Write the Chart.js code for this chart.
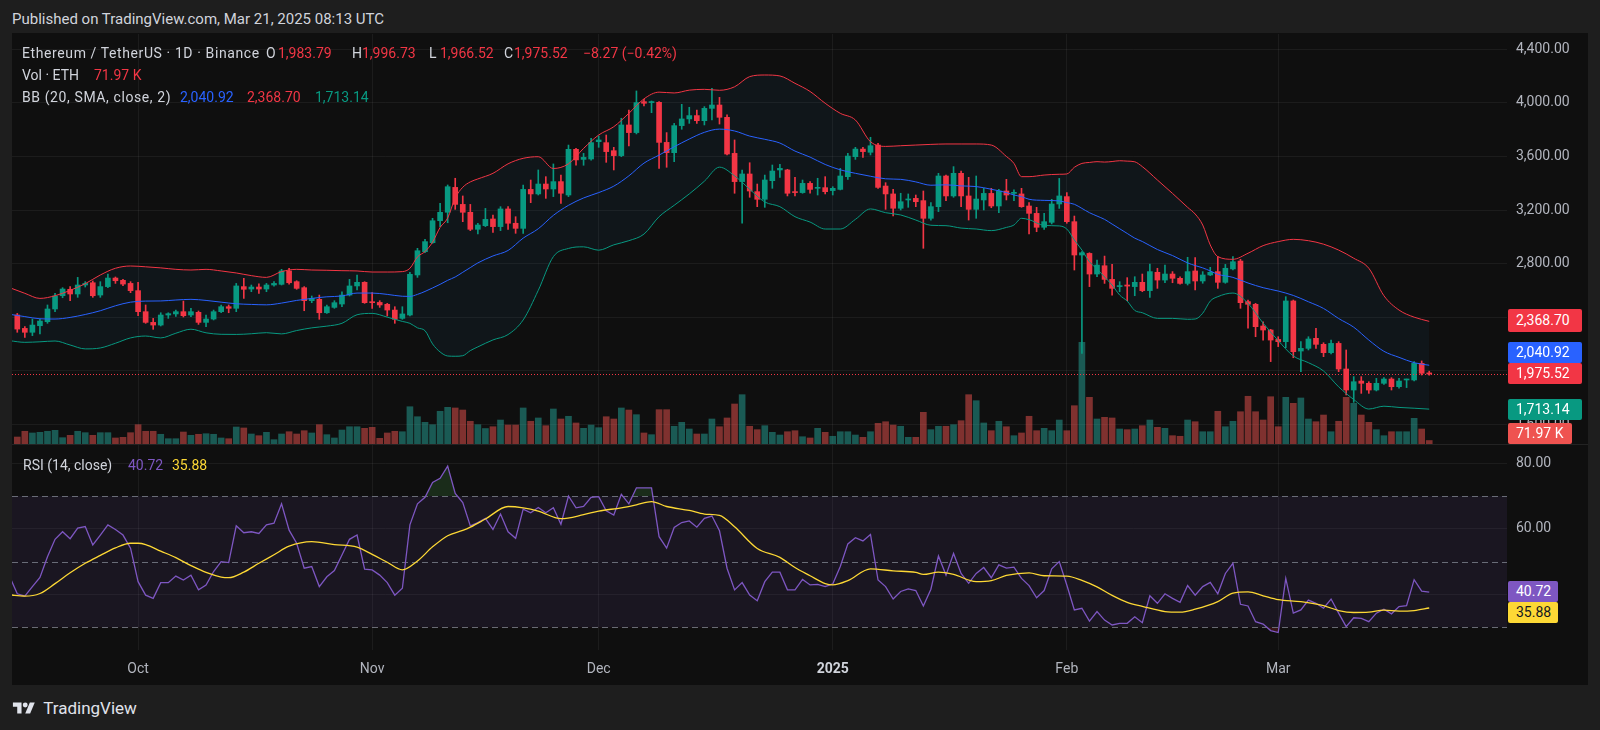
<!DOCTYPE html>
<html>
<head>
<meta charset="utf-8">
<script src="https://cdn.jsdelivr.net/npm/chart.js@4.4.1/dist/chart.umd.min.js"></script>
<style>
html, body { margin: 0; padding: 0; width: 1600px; height: 730px; overflow: hidden; background: #1e1e1e; font-family: Roboto, "Noto Sans", sans-serif; }
#panel { position: absolute; left: 12px; top: 33px; width: 1576px; height: 652px; background: #0f0f0f; }
#sep { position: absolute; left: 12px; top: 444px; width: 1576px; height: 1px; background: #232323; }
canvas { position: absolute; }
.t { position: absolute; white-space: nowrap; line-height: 1; font-size: 14px; color: #d1d4dc; }
.wide { letter-spacing: 0.6px; }
.box { position: absolute; left: 1508px; height: 21px; line-height: 21px; font-size: 14px; color: #fff; padding-left: 8px; box-sizing: border-box; border-radius: 2px; white-space: nowrap; }
.r { color: #f23645; }
</style>
</head>
<body>
<div class="t" style="left:12px;top:12px;font-size:15px">Published on TradingView.com, Mar 21, 2025 08:13 UTC</div>
<div id="panel"></div>
<canvas id="price" width="1576" height="410" style="left:12px;top:34px;width:1576px;height:410px"></canvas>
<canvas id="rsi" width="1576" height="241" style="left:12px;top:444px;width:1576px;height:241px"></canvas>
<div id="sep"></div>

<!-- legend, price pane -->
<div class="t wide" style="left:22px;top:46px">Ethereum / TetherUS&nbsp;·&nbsp;1D&nbsp;·&nbsp;Binance</div>
<div class="t" style="left:266px;top:46px">O</div><div class="t r" style="left:278px;top:46px">1,983.79</div>
<div class="t" style="left:352px;top:46px">H</div><div class="t r" style="left:362px;top:46px">1,996.73</div>
<div class="t" style="left:429px;top:46px">L</div><div class="t r" style="left:440px;top:46px">1,966.52</div>
<div class="t" style="left:504px;top:46px">C</div><div class="t r" style="left:514px;top:46px">1,975.52</div>
<div class="t r" style="left:583px;top:46px">−8.27 (−0.42%)</div>
<div class="t" style="left:22px;top:68px">Vol&nbsp;·&nbsp;ETH</div>
<div class="t r" style="left:94px;top:68px">71.97 K</div>
<div class="t wide" style="left:22px;top:90px">BB (20, SMA, close, 2)</div>
<div class="t" style="left:180px;top:90px;color:#2962ff">2,040.92</div>
<div class="t r" style="left:247px;top:90px">2,368.70</div>
<div class="t" style="left:315px;top:90px;color:#089981">1,713.14</div>

<!-- legend, RSI pane -->
<div class="t" style="left:23px;top:458px">RSI (14, close)</div>
<div class="t" style="left:128px;top:458px;color:#7e57c2">40.72</div>
<div class="t" style="left:172px;top:458px;color:#fdd835">35.88</div>

<!-- last value labels on the price scale -->
<div class="box" style="top:309px;height:23px;line-height:23px;width:74px;background:#f23645">2,368.70</div>
<div class="box" style="top:342px;width:74px;background:#2962ff">2,040.92</div>
<div class="box" style="top:363px;width:74px;background:#f23645">1,975.52</div>
<div class="box" style="top:399px;width:74px;background:#089981">1,713.14</div>
<div class="box" style="top:423px;width:64px;background:#ef5350">71.97 K</div>
<div class="box" style="top:581px;width:50px;background:#7e57c2">40.72</div>
<div class="box" style="top:602px;width:50px;background:#fdd835;color:#131722">35.88</div>

<!-- footer logo -->
<div class="t" style="left:12px;top:700px;font-size:17px;color:#e0e3eb">
  <svg width="24" height="16" viewBox="0 0 36 26" style="vertical-align:-2px"><path d="M14 22H7V11H0V4h14v18z" fill="#e0e3eb"/><circle cx="20" cy="8" r="4" fill="#e0e3eb"/><path d="M28 22h-8l7.5-18h8L28 22z" fill="#e0e3eb"/></svg>
  <span style="margin-left:3px">TradingView</span>
</div>

<script>
// dates
const axisOrigin = '2024-10-01';
const firstCandle = '2024-09-15';
const firstRsi = '2024-09-14';
const monthStarts = ['2024-10-01', '2024-11-01', '2024-12-01', '2025-01-01', '2025-02-01', '2025-03-01'];
const monthLabels = ['Oct', 'Nov', 'Dec', '2025', 'Feb', 'Mar'];
const priceTicks = [1600, 2000, 2400, 2800, 3200, 3600, 4000, 4400];
const rsiTicks = [40, 60, 80];
const rsiLevels = [70, 50, 30];

// daily candles, Sep 15 2024 .. Mar 21 2025
const opens = [
  2416,2316,2287,2336,2366,2461,2560,2608,2573,2640,2657,2565,2628,2692,2675,2652,
  2598,2441,2361,2341,2416,2424,2441,2416,2436,2361,2386,2441,2478,2466,2628,2610,2625,2610,2640,2645,2745,2665,2620,2523,2533,2433,2473,2498,2565,2633,2660,
  2515,2510,2496,2453,2391,2416,2715,2889,2956,3120,3183,3369,3242,3183,3056,3083,3133,3076,3208,3101,3063,3354,3320,3394,3357,3412,3312,3653,3578,3581,
  3710,3703,3643,3606,3835,3778,4009,4002,4004,3705,3628,3830,3880,3905,3867,3959,3984,3892,3623,3412,3469,3337,3280,3419,3499,3499,3337,3330,3399,3362,3367,
  3345,3354,3449,3598,3655,3631,3685,3379,3320,3213,3275,3287,3270,3138,3225,3454,3305,3474,3305,3205,3275,3324,3230,3342,3324,3320,3230,3175,3071,3108,3245,
  3300,3113,2864,2876,2722,2784,2682,2628,2640,2628,2660,2598,2735,2677,2722,2690,2652,2745,2670,2715,2740,2660,2760,2819,2516,2496,2334,2304,
  2234,2217,2521,2147,2167,2242,2197,2135,2204,2013,1856,1923,1906,1856,1906,1938,1881,1931,1931,2055,1983.79
];
const highs = [
  2428,2329,2386,2386,2491,2578,2620,2628,2697,2665,2670,2665,2722,2700,2682,2665,
  2660,2491,2391,2433,2433,2453,2520,2466,2446,2416,2453,2491,2491,2652,2690,2640,2648,2652,2665,2757,2765,2672,2628,2558,2565,2491,2523,2590,2682,2715,2665,
  2583,2523,2503,2478,2478,2735,2914,2981,3138,3250,3387,3437,3305,3242,3100,3212,3163,3225,3225,3150,3387,3424,3499,3449,3544,3461,3685,3661,3623,3735,
  3753,3760,3668,3885,3947,4089,4026,4014,4009,3778,3847,3989,3967,3947,3972,4108,4041,3910,3723,3499,3553,3394,3461,3536,3541,3504,3444,3424,3412,3437,3449,
  3374,3511,3623,3668,3668,3743,3698,3404,3354,3325,3320,3312,3342,3255,3474,3461,3524,3491,3444,3454,3362,3362,3354,3429,3350,3362,3255,3220,3175,3280,3436,
  3330,3155,2889,2881,2827,2856,2794,2665,2695,2702,2722,2797,2765,2789,2740,2702,2847,2844,2740,2772,2852,2794,2852,2832,2528,2503,2366,2309,
  2254,2553,2528,2217,2254,2317,2209,2229,2217,2155,1956,1956,1918,1943,1948,1948,1943,1938,2068,2073,1996.73
];
const lows = [
  2287,2249,2262,2274,2354,2441,2545,2523,2548,2625,2548,2548,2620,2652,2635,2583,
  2411,2354,2309,2334,2391,2406,2401,2404,2346,2329,2379,2433,2433,2441,2540,2590,2578,2590,2632,2640,2647,2608,2448,2508,2384,2428,2466,2478,2558,2603,2503,
  2466,2473,2409,2354,2384,2409,2697,2881,2951,3076,3105,3205,3113,3046,3021,3076,3033,3046,3056,3026,3026,3255,3312,3287,3300,3250,3300,3534,3534,3573,
  3668,3556,3499,3598,3678,3768,3977,3927,3511,3519,3561,3803,3847,3847,3835,3872,3842,3611,3325,3101,3295,3225,3220,3362,3444,3305,3305,3325,3325,3312,3320,
  3312,3350,3429,3578,3593,3611,3362,3205,3155,3200,3220,3225,2914,3125,3188,3270,3295,3225,3125,3138,3200,3217,3180,3275,3270,3220,3021,3038,3056,3096,3212,
  3101,2752,2130,2628,2702,2652,2565,2590,2523,2560,2590,2548,2615,2657,2657,2647,2640,2603,2653,2710,2615,2653,2752,2466,2317,2254,2229,2068,
  2180,2172,2097,1993,2155,2167,2105,2125,1993,1819,1764,1831,1831,1849,1898,1856,1869,1874,1923,1968,1966.52
];
const closes = [
  2311,2287,2341,2371,2461,2558,2610,2573,2640,2652,2560,2628,2692,2672,2647,2598,
  2441,2361,2341,2416,2426,2441,2411,2441,2361,2386,2441,2478,2466,2633,2608,2625,2610,2640,2652,2745,2657,2615,2523,2540,2433,2478,2508,2565,2633,2660,2508,
  2508,2491,2453,2384,2424,2720,2896,2964,3120,3183,3374,3242,3183,3056,3088,3130,3076,3208,3101,3063,3354,3320,3394,3357,3412,3325,3653,3574,3593,3703,
  3723,3636,3606,3835,3778,4002,3997,4009,3705,3628,3830,3880,3905,3867,3959,3984,3892,3618,3412,3469,3342,3280,3424,3491,3511,3325,3330,3399,3354,3369,3337,
  3362,3454,3603,3655,3636,3680,3369,3320,3213,3262,3280,3262,3138,3225,3454,3305,3474,3305,3205,3282,3324,3230,3342,3312,3332,3225,3175,3071,3113,3245,3305,
  3113,2864,2881,2722,2789,2682,2615,2635,2632,2660,2598,2740,2677,2722,2690,2652,2740,2670,2715,2735,2660,2765,2814,2508,2496,2329,2304,2229,
  2217,2521,2142,2167,2237,2197,2135,2204,2013,1856,1918,1906,1856,1906,1938,1881,1923,1938,2055,1981,1975.52
];
// volume, thousands of ETH
const volumes = [
  144,262,227,241,262,282,130,179,262,233,179,233,233,124,138,233,
  398,262,262,200,109,109,247,179,200,212,200,124,109,350,330,206,171,241,89,206,253,206,274,227,398,192,124,288,356,356,323,
  344,117,227,262,253,768,562,447,398,674,756,742,700,468,398,319,356,494,391,391,742,468,536,377,721,515,571,433,323,391,
  336,562,515,742,700,604,227,192,707,707,365,447,309,206,206,515,356,536,824,1016,365,295,377,241,185,253,274,150,124,323,241,
  159,253,253,185,138,253,426,459,391,365,138,138,653,295,365,365,398,480,1016,892,433,274,468,356,171,227,571,274,323,274,494,
  274,789,2095,962,515,550,536,309,295,309,377,494,344,323,171,159,494,459,253,253,674,356,468,665,983,665,494,974,
  356,962,838,948,515,459,597,253,468,962,838,597,447,295,171,253,253,253,529,309,71.97
];

// Bollinger bands, read every few days (day 0 = Oct 1)
const bbDays = [-17,-15,-13,-11,-9,-7,-5,-3,-1,1,3,5,7,9,11,13,15,17,19,21,23,25,27,29,31,33,35,36,37,38,39,40,41,42,43,44,45,47,49,51,53,55,57,59,61,63,65,67,69,71,73,75,77,79,81,83,85,87,89,91,93,95,97,99,101,103,105,107,109,111,113,115,116,117,118,120,122,123,124,125,126,127,128,129,130,131,132,133,135,137,139,140,141,142,143,145,147,149,151,153,155,157,159,161,163,165,167,169,171];
const bbUpper = [2620,2578,2540,2560,2600,2650,2715,2765,2782,2776,2768,2757,2752,2757,2745,2730,2710,2697,2740,2757,2752,2750,2747,2745,2737,2737,2740,2765,2850,2890,2960,3070,3140,3290,3370,3410,3432,3474,3545,3586,3598,3510,3545,3660,3760,3822,3922,4030,4080,4074,4095,4101,4094,4120,4196,4208,4201,4146,4085,3997,3922,3872,3710,3675,3680,3685,3690,3693,3693,3693,3685,3600,3548,3449,3449,3461,3467,3469,3519,3548,3555,3561,3558,3562,3568,3565,3560,3524,3424,3324,3220,3170,3088,2939,2852,2832,2877,2934,2964,2981,2971,2945,2901,2840,2765,2560,2453,2400,2368.70];
const bbBasis = [2421,2404,2388,2386,2398,2420,2448,2485,2512,2520,2521,2528,2533,2525,2512,2500,2495,2492,2505,2525,2540,2552,2558,2580,2580,2570,2556,2555,2570,2592,2618,2645,2675,2700,2735,2770,2805,2857,2898,2990,3060,3160,3235,3290,3330,3378,3455,3550,3610,3672,3730,3780,3804,3790,3752,3728,3700,3640,3595,3540,3500,3474,3452,3433,3429,3410,3385,3388,3380,3375,3355,3330,3312,3300,3280,3272,3268,3255,3243,3212,3180,3155,3130,3095,3060,3025,2990,2965,2905,2860,2805,2785,2768,2745,2720,2697,2655,2620,2595,2562,2515,2465,2390,2325,2229,2145,2100,2060,2040.92];
const bbLower = [2224,2212,2216,2222,2192,2163,2170,2205,2245,2259,2245,2280,2310,2283,2272,2271,2276,2284,2275,2300,2320,2333,2354,2418,2428,2400,2368,2354,2320,2299,2200,2140,2110,2108,2112,2150,2178,2230,2270,2379,2600,2852,2913,2925,2900,2940,2971,3020,3150,3235,3320,3415,3520,3455,3355,3260,3225,3150,3110,3058,3058,3130,3208,3180,3163,3125,3086,3083,3065,3058,3046,3070,3088,3138,3128,3085,3081,3058,2976,2901,2814,2760,2700,2640,2565,2520,2450,2433,2391,2391,2384,2386,2429,2520,2553,2580,2503,2355,2225,2110,2060,1998,1880,1785,1714,1735,1726,1720,1713.14];

// RSI (14) daily from Sep 14, and its moving average read every few days
const rsiValues = [
  45.4,40.2,39.5,42.4,45.2,51.5,56.8,59.1,57.0,60.2,60.7,55.1,58.1,61.2,59.8,58.1,54.1,
  43.9,39.8,38.8,43.6,43.6,45.6,44.4,45.9,41.4,42.9,47.0,50.0,49.7,60.9,58.8,59.1,58.6,61.2,61.7,67.6,59.6,55.6,48.0,48.5,42.4,45.4,47.3,52.0,56.8,58.1,47.7,
  47.5,45.9,43.6,39.8,41.9,61.2,67.6,69.6,74.1,75.4,79.1,70.8,68.0,60.9,61.9,63.2,59.8,64.5,59.1,57.1,66.0,64.9,66.5,64.9,66.4,61.4,70.0,66.4,66.8,69.6,
  69.8,65.5,64.2,70.5,67.6,72.5,72.5,72.5,57.6,54.1,60.4,61.9,62.4,60.5,63.2,63.9,59.4,48.0,41.4,43.6,39.8,38.1,43.9,46.8,46.8,41.4,41.4,44.6,42.9,43.1,42.4,
  43.2,48.5,55.4,57.3,56.3,58.3,44.4,42.4,38.6,40.9,41.7,41.2,36.5,41.6,51.7,45.9,52.5,46.4,43.4,46.4,48.2,45.1,49.0,48.0,48.3,44.9,42.7,39.0,41.2,47.8,50.0,
  42.9,35.3,35.8,31.9,34.8,32.2,30.7,31.2,31.2,33.2,31.4,39.6,37.3,40.2,38.8,37.6,42.7,39.8,42.4,43.7,40.2,46.4,49.5,37.0,36.5,31.7,31.0,29.0,
  28.4,44.9,34.3,35.3,38.3,37.3,35.8,38.6,34.3,30.2,32.9,32.7,31.7,34.3,35.5,34.1,36.3,36.6,44.5,41.0,40.72
];
const maDays = [-17,-15,-13,-11,-9,-7,-5,-3,-1,0,1,3,5,7,9,11,12,14,16,18,20,23,26,29,31,33,35,37,39,41,43,44,46,49,51,53,56,59,61,64,66,68,70,73,75,77,79,82,85,87,89,91,92,94,97,100,103,104,106,108,111,113,115,118,120,123,125,127,129,131,133,136,138,140,143,145,147,149,151,154,157,159,161,163,165,167,169,171];
const maValues = [39.9,39.5,40.3,43.3,46.6,49.5,51.9,54.2,55.6,55.6,55.2,53.2,51.2,48.8,46.7,45.3,45.1,46.8,49.5,52.1,54.7,56.1,55.2,54.4,52.2,49.8,47.5,50.2,54.5,57.9,59.5,60.5,63.0,66.8,66.4,65.4,63.1,64.3,65.4,66.4,67.3,68.3,66.8,65.6,64.5,64.1,60.6,54.0,51.3,48.2,45.7,43.3,42.9,44.2,47.8,47.2,46.7,46.1,46.8,46.1,43.9,44.2,45.8,46.6,45.7,45.6,44.3,42.3,39.7,37.6,36.4,34.8,34.6,35.5,37.8,40.4,40.8,39.6,38.4,37.8,36.6,35.1,34.5,34.6,35.2,34.9,35.1,35.88];

// helpers
const dayOf = s => Math.round((Date.parse(s) - Date.parse(axisOrigin)) / 86400000);
const fmt = v => v.toLocaleString('en-US', { minimumFractionDigits: 2, maximumFractionDigits: 2 });
const c0 = dayOf(firstCandle);
const r0 = dayOf(firstRsi);
const monthDays = monthStarts.map(dayOf);

const GREEN = '#089981', RED = '#f23645';
const gridColor = 'rgba(242,242,242,0.06)';
const font14 = { family: 'Roboto', size: 14 };
const xMin = -16.7, xMax = 181.3;

const rising = closes.map((c, i) => c >= opens[i]);
const candleColors = rising.map(u => u ? GREEN : RED);
const volColors = rising.map(u => u ? 'rgba(38,166,154,0.5)' : 'rgba(239,83,80,0.5)');

const wickData = highs.map((h, i) => ({ x: c0 + i, y: [lows[i], h] }));
const bodyData = opens.map((o, i) => ({ x: c0 + i, y: [o, closes[i]] }));
const volData = volumes.map((v, i) => ({ x: c0 + i, y: v }));
const band = arr => bbDays.map((d, i) => ({ x: d, y: arr[i] }));
const rsiData = rsiValues.map((v, i) => ({ x: r0 + i, y: v }));
const maData = maDays.map((d, i) => ({ x: d, y: maValues[i] }));

const monthTicks = s => { s.ticks = monthDays.map(v => ({ value: v })); };
const noPad = s => { s.paddingTop = 0; s.paddingBottom = 0; s.paddingLeft = 0; s.paddingRight = 0; };

// red dotted line at the last close
const lastPrice = {
  id: 'lastPrice',
  afterDatasetsDraw(chart) {
    const { ctx, chartArea: a, scales: { y } } = chart;
    const py = Math.round(y.getPixelForValue(closes[closes.length - 1])) + 0.5;
    ctx.save();
    ctx.strokeStyle = RED;
    ctx.lineWidth = 1;
    ctx.setLineDash([1, 2]);
    ctx.beginPath();
    ctx.moveTo(a.left, py);
    ctx.lineTo(a.right, py);
    ctx.stroke();
    ctx.restore();
  }
};

// RSI background band and dashed 70/50/30 lines
const rsiBands = {
  id: 'rsiBands',
  beforeDatasetsDraw(chart) {
    const { ctx, chartArea: a, scales: { y } } = chart;
    const top = y.getPixelForValue(rsiLevels[0]);
    const bot = y.getPixelForValue(rsiLevels[2]);
    ctx.save();
    ctx.fillStyle = 'rgba(126,87,194,0.1)';
    ctx.fillRect(a.left, top, a.right - a.left, bot - top);
    ctx.strokeStyle = 'rgba(120,123,134,0.85)';
    ctx.lineWidth = 1;
    ctx.setLineDash([6, 4]);
    rsiLevels.forEach(v => {
      const py = Math.round(y.getPixelForValue(v)) + 0.5;
      ctx.beginPath();
      ctx.moveTo(a.left, py);
      ctx.lineTo(a.right, py);
      ctx.stroke();
    });
    ctx.restore();
  }
};

const lineStyle = (color, extra) => Object.assign({
  type: 'line', borderColor: color, borderWidth: 1, pointRadius: 0,
  cubicInterpolationMode: 'monotone', yAxisID: 'y'
}, extra || {});

new Chart(document.getElementById('price'), {
  type: 'bar',
  data: {
    datasets: [
      { type: 'bar', data: volData, yAxisID: 'yv', backgroundColor: volColors, barThickness: 6, grouped: false, order: 5 },
      { type: 'bar', data: wickData, yAxisID: 'y', backgroundColor: candleColors, barThickness: 1, grouped: false, order: 4 },
      { type: 'bar', data: bodyData, yAxisID: 'y', backgroundColor: candleColors, barThickness: 5, minBarLength: 1, grouped: false, order: 3 },
      lineStyle('#089981', { data: band(bbLower), order: 2 }),
      lineStyle('#f23645', { data: band(bbUpper), order: 1, fill: { target: 3 }, backgroundColor: 'rgba(33,150,243,0.05)' }),
      lineStyle('#2962ff', { data: band(bbBasis), order: 0 })
    ]
  },
  options: {
    responsive: false,
    animation: false,
    events: [],
    layout: { padding: 0 },
    plugins: { legend: { display: false }, tooltip: { enabled: false }, filler: { drawTime: 'beforeDatasetsDraw' } },
    scales: {
      x: {
        type: 'linear', min: xMin, max: xMax, offset: false,
        grid: { color: gridColor, drawTicks: false, offset: false },
        border: { display: false },
        ticks: { display: false },
        afterBuildTicks: monthTicks,
        afterFit: s => { s.height = 0; noPad(s); }
      },
      y: {
        position: 'right', min: 1452.9, max: 4514.2,
        grid: { color: gridColor, drawTicks: false },
        border: { display: false },
        ticks: { color: '#b2b5be', font: font14, padding: 9, callback: v => fmt(v) },
        afterBuildTicks: s => { s.ticks = priceTicks.map(v => ({ value: v })); },
        afterFit: s => { s.width = 81; noPad(s); }
      },
      yv: { display: false, min: 0, max: 8446 }
    }
  },
  plugins: [lastPrice]
});

new Chart(document.getElementById('rsi'), {
  type: 'line',
  data: {
    datasets: [
      { data: rsiData, borderColor: '#7e57c2', borderWidth: 1.3, pointRadius: 0, order: 1,
        fill: { target: { value: 70 }, above: 'rgba(76,175,80,0.18)', below: 'rgba(0,0,0,0)' } },
      { data: rsiData, borderColor: 'rgba(0,0,0,0)', borderWidth: 0, pointRadius: 0, order: 2,
        fill: { target: { value: 30 }, above: 'rgba(0,0,0,0)', below: 'rgba(242,54,69,0.18)' } },
      { data: maData, borderColor: '#fdd835', borderWidth: 1.3, pointRadius: 0, cubicInterpolationMode: 'monotone', order: 0 }
    ]
  },
  options: {
    responsive: false,
    animation: false,
    events: [],
    layout: { padding: 0 },
    plugins: { legend: { display: false }, tooltip: { enabled: false }, filler: { drawTime: 'beforeDatasetsDraw' } },
    scales: {
      x: {
        type: 'linear', min: xMin, max: xMax, offset: false,
        grid: { color: gridColor, drawTicks: false, offset: false },
        border: { display: false },
        ticks: {
          autoSkip: false, maxRotation: 0, padding: 11,
          color: c => (c.tick && c.tick.label === '2025') ? '#d1d4dc' : '#b2b5be',
          font: c => ({ family: 'Roboto', size: 14, weight: (c.tick && c.tick.label === '2025') ? 'bold' : 'normal' }),
          callback: (v, i) => monthLabels[i]
        },
        afterBuildTicks: monthTicks,
        afterFit: s => { s.height = 35; noPad(s); }
      },
      y: {
        position: 'right', min: 23.08, max: 85.84,
        grid: { color: gridColor, drawTicks: false },
        border: { display: false },
        ticks: { color: '#b2b5be', font: font14, padding: 9, callback: v => fmt(v) },
        afterBuildTicks: s => { s.ticks = rsiTicks.map(v => ({ value: v })); },
        afterFit: s => { s.width = 81; noPad(s); }
      }
    }
  },
  plugins: [rsiBands]
});
</script>
</body>
</html>
